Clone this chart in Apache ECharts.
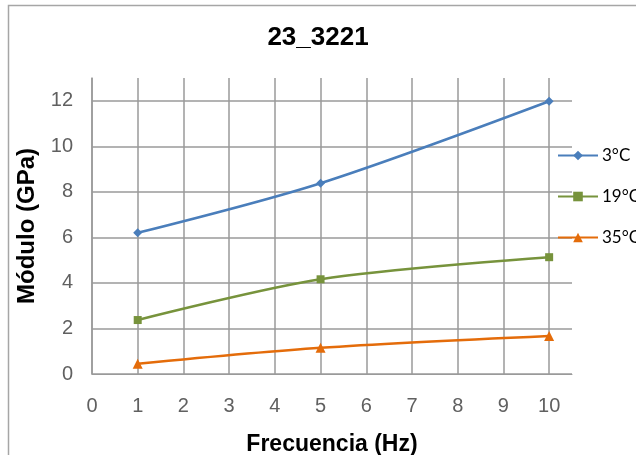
<!DOCTYPE html>
<html>
<head>
<meta charset="utf-8">
<script src="https://cdn.jsdelivr.net/npm/echarts@6/dist/echarts.min.js"></script>
<style>
  html, body { margin: 0; padding: 0; background: #fff; }
  #chart { width: 636px; height: 455px; }
</style>
</head>
<body>
<div id="chart"></div>
<script>
// Frequencies (Hz) and modulus (GPa) at each test temperature
const frequencies = [1, 5, 10];
const seriesNames = ['3°C', '19°C', '35°C'];
const modulus3C  = [6.2, 8.38, 11.98];
const modulus19C = [2.37, 4.16, 5.13];
const modulus35C = [0.45, 1.15, 1.67];

const xTicks = [0, 1, 2, 3, 4, 5, 6, 7, 8, 9, 10];
const yTicks = [0, 2, 4, 6, 8, 10, 12];

const colors = ['#4a7ebb', '#77933c', '#e46c0a'];
const symbols = ['diamond', 'rect', 'triangle'];
const symbolSizes = [9, 8, 10];

const pairs = vals => frequencies.map((f, i) => [f, vals[i]]);
const allValues = [modulus3C, modulus19C, modulus35C];

const gridGray = '#9a9a9a';
const chart = echarts.init(document.getElementById('chart'));

chart.setOption({
  animation: false,
  backgroundColor: '#fff',
  graphic: [{
    type: 'rect',
    shape: { x: 8.5, y: 5.5, width: 700, height: 500 },
    style: { fill: 'none', stroke: '#a6a6a6', lineWidth: 1.5 },
    silent: true
  }],
  title: {
    text: '23_3221',
    left: 'center',
    top: 20,
    textStyle: { fontFamily: 'Liberation Sans', fontSize: 26, fontWeight: 'bold', color: '#000' }
  },
  legend: {
    orient: 'vertical',
    left: 552,
    top: 142,
    itemGap: 24,
    itemWidth: 40,
    itemHeight: 12,
    data: seriesNames,
    textStyle: { fontFamily: 'Lato', fontSize: 17, color: '#000', padding: [0, 0, 0, -1] }
  },
  grid: { left: 92, right: 64, top: 78, bottom: 81, outerBoundsMode: 'none', containLabel: false },
  xAxis: {
    type: 'value',
    min: 0,
    max: 10.5,
    interval: 1,
    name: 'Frecuencia (Hz)',
    nameLocation: 'middle',
    nameGap: 59,
    nameTextStyle: { fontFamily: 'Liberation Sans', fontSize: 23, fontWeight: 'bold', color: '#000' },
    axisLine: { show: true, lineStyle: { color: gridGray } },
    axisTick: { show: false },
    axisLabel: {
      margin: 22,
      fontFamily: 'Liberation Sans',
      fontSize: 20,
      color: '#606060',
      formatter: v => (xTicks.indexOf(v) >= 0 ? String(v) : '')
    },
    splitLine: {
      show: true,
      lineStyle: {
        width: 1.5,
        color: xTicks.map(() => gridGray).concat(['rgba(0,0,0,0)'])
      }
    }
  },
  yAxis: {
    type: 'value',
    min: 0,
    max: 13,
    interval: 2,
    name: 'Módulo (GPa)',
    nameLocation: 'middle',
    nameGap: 53,
    nameTextStyle: { fontFamily: 'Liberation Sans', fontSize: 24, fontWeight: 'bold', color: '#000' },
    axisLine: { show: true, lineStyle: { color: gridGray, width: 1.5 } },
    axisTick: { show: false },
    axisLabel: {
      margin: 19,
      fontFamily: 'Liberation Sans',
      fontSize: 20,
      color: '#606060',
      formatter: v => (yTicks.indexOf(v) >= 0 ? String(v) : '')
    },
    splitLine: {
      show: true,
      lineStyle: {
        width: 1.5,
        color: yTicks.map(() => gridGray).concat(['rgba(0,0,0,0)'])
      }
    }
  },
  series: seriesNames.map((name, i) => ({
    name: name,
    type: 'line',
    smooth: 0.3,
    data: pairs(allValues[i]),
    symbol: symbols[i],
    symbolSize: symbolSizes[i],
    lineStyle: { color: colors[i], width: 2.5 },
    itemStyle: { color: colors[i] }
  }))
});
</script>
</body>
</html>
